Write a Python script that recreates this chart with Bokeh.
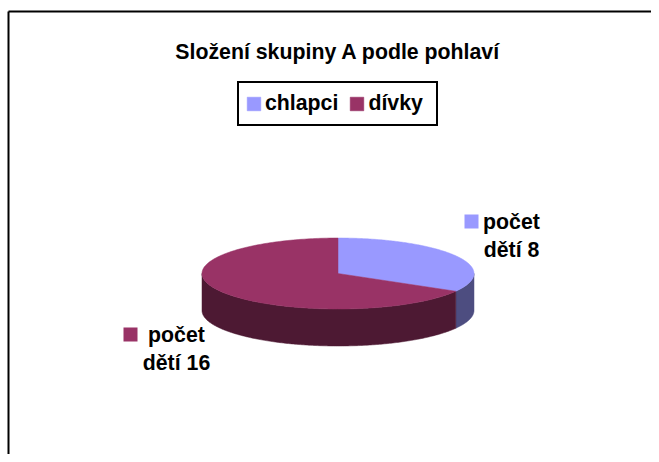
import numpy as np
from bokeh.plotting import figure
from bokeh.models import Range1d, Legend, LegendItem
from bokeh.core.properties import value
from bokeh.embed import file_html
from bokeh.resources import INLINE

title_text = "Složení skupiny A podle pohlaví"
categories = ["chlapci", "dívky"]
counts = [8, 16]
top_colors = ["#9999FF", "#993366"]
side_colors = ["#4D4D80", "#4D1933"]
label_lines = [["počet", "dětí 8"], ["počet", "dětí 16"]]

FONT = "Liberation Sans"
W, H = 651, 454

p = figure(width=W, height=H, output_backend="svg", toolbar_location=None,
           x_range=Range1d(0, W), y_range=Range1d(H, 0),
           min_border=0, background_fill_color="white", border_fill_color="white",
           outline_line_color=None)
p.axis.visible = False
p.grid.visible = False

p.line([8, 8], [H, 11], line_color="black", line_width=2)
p.line([8, W], [11, 11], line_color="black", line_width=2)

cx, cy, rx, ry, depth = 337.5, 273, 136, 35.5, 37
fracs = np.array(counts) / sum(counts)
edges = np.concatenate([[0], np.cumsum(fracs)]) * 2 * np.pi


def rim(a0, a1, n=200):
    t = np.linspace(a0, a1, n)
    return cx + rx * np.sin(t), cy - ry * np.cos(t)


for i in range(len(counts)):
    a0 = max(edges[i], np.pi / 2)
    a1 = min(edges[i + 1], 3 * np.pi / 2)
    if a1 > a0:
        x, y = rim(a0, a1)
        p.patch(np.r_[x, x[::-1]], np.r_[y, y[::-1] + depth],
                fill_color=side_colors[i], line_color=side_colors[i], line_width=0.5)

renderers = []
for i in range(len(counts)):
    x, y = rim(edges[i], edges[i + 1])
    r = p.patch(np.r_[cx, x], np.r_[cy, y], fill_color=top_colors[i],
                line_color=top_colors[i], line_width=0.5)
    renderers.append(r)

p.text([337.5], [51], text=[title_text], text_font=value(FONT), text_font_size="21.3px",
       text_font_style="bold", text_align="center", text_baseline="middle", text_color="black")

key_pos = [(471, 221), (130, 334)]
text_pos = [(511, [221, 249]), (176, [334, 362])]
for i in range(len(counts)):
    p.scatter([key_pos[i][0]], [key_pos[i][1]], marker="square", size=14,
              fill_color=top_colors[i], line_color=None)
    tx, tys = text_pos[i]
    for line, ty in zip(label_lines[i], tys):
        p.text([tx], [ty], text=[line], text_font=value(FONT), text_font_size="21.3px",
               text_font_style="bold", text_align="center", text_baseline="middle",
               text_color="black")

legend = Legend(items=[LegendItem(label=c, renderers=[r]) for c, r in zip(categories, renderers)],
                orientation="horizontal", location=(237, H - 126),
                border_line_color="black", border_line_width=2, border_line_alpha=1,
                background_fill_color="white", background_fill_alpha=1,
                label_text_font=FONT, label_text_font_size="21.3px",
                label_text_font_style="bold", label_text_color="black",
                glyph_width=17, glyph_height=17, spacing=10, padding=6, margin=0,
                label_standoff=3, label_width=62, label_height=29)
p.add_layout(legend, "center")

open("out.html", "w").write(file_html(p, INLINE))
